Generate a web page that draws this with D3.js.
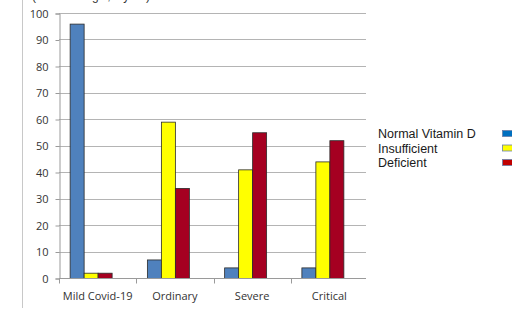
<!DOCTYPE html>
<html>
<head>
<meta charset="utf-8">
<script src="https://cdn.jsdelivr.net/npm/d3@7"></script>
<style>
  body { margin: 0; background: #fff; }
  svg { display: block; }
</style>
</head>
<body>
<div id="chart"></div>
<script>
var width = 512, height = 310;

// data
const categories = ["Mild Covid-19", "Ordinary", "Severe", "Critical"];
const seriesNames = ["Normal Vitamin D", "Insufficient", "Deficient"];
const normalVals = [96, 7, 4, 4];
const insufficientVals = [2, 59, 41, 44];
const deficientVals = [2, 34, 55, 52];
const yTicks = [0, 10, 20, 30, 40, 50, 60, 70, 80, 90, 100];

const seriesVals = [normalVals, insufficientVals, deficientVals];
const barColors = ["#4f81bd", "#ffff00", "#a50021"];
const legendColors = ["#0070c0", "#ffff00", "#c00000"];

const svg = d3.select("#chart").append("svg")
    .attr("width", width)
    .attr("height", height);

const plotLeft = 59, plotRight = 368, plotTop = 13, plotBottom = 278;

const x = d3.scaleBand()
    .domain(categories)
    .range([plotLeft, plotRight]);

// an empty 4th slot keeps the groups left of centre, like the original
const xs = d3.scaleBand()
    .domain(seriesNames.concat(["_"]))
    .range([0, x.bandwidth()])
    .paddingOuter(0.76);

const y = d3.scaleLinear()
    .domain([0, 100])
    .range([plotBottom, plotTop]);

// outer frame line on the left
svg.append("line")
    .attr("x1", 22.5).attr("x2", 22.5)
    .attr("y1", 0).attr("y2", 308)
    .attr("stroke", "#c8c8c8");

// cut-off title at the very top (only its lowest pixels are in frame)
svg.append("text")
    .attr("x", 32).attr("y", -0.5)
    .attr("textLength", 118)
    .attr("font-family", "Liberation Sans, Arial, sans-serif")
    .attr("font-size", 12)
    .attr("fill", "#333")
    .text("(Percentage, by %)");

// grid
svg.append("g")
  .selectAll("line")
  .data(yTicks.filter(d => d > 0))
  .join("line")
    .attr("x1", plotLeft).attr("x2", 366)
    .attr("y1", d => Math.round(y(d)) + 0.5)
    .attr("y2", d => Math.round(y(d)) + 0.5)
    .attr("stroke", "#b4b4b4");

// y axis
const yAxis = svg.append("g")
    .attr("transform", "translate(" + (plotLeft + 0.5) + ",0.5)")
    .call(d3.axisLeft(y).tickValues(yTicks).tickSize(4).tickPadding(7));
yAxis.select(".domain").attr("stroke", "#9a9a9a");
yAxis.selectAll(".tick line").attr("stroke", "#9a9a9a");
yAxis.selectAll("text")
    .attr("font-family", "Open Sans, Liberation Sans, sans-serif")
    .attr("font-size", 11)
    .attr("fill", "#333");

// bars
const groups = svg.append("g")
  .selectAll("g")
  .data(seriesVals)
  .join("g")
    .attr("fill", (d, i) => barColors[i]);

groups.selectAll("rect")
  .data((vals, i) => vals.map((v, j) => ({cat: categories[j], s: seriesNames[i], v: v})))
  .join("rect")
    .attr("x", d => x(d.cat) + xs(d.s) + 0.5)
    .attr("y", d => y(d.v) + 0.5)
    .attr("width", xs.bandwidth())
    .attr("height", d => y(0) - y(d.v))
    .attr("stroke", "#2b2b2b")
    .attr("stroke-width", 0.8);

// x axis
const xAxisLine = svg.append("g").attr("transform", "translate(0," + (plotBottom + 0.5) + ")");
xAxisLine.append("line")
    .attr("x1", plotLeft).attr("x2", 366)
    .attr("stroke", "#9a9a9a");
xAxisLine.selectAll(".sep")
  .data(categories)
  .join("line")
    .attr("class", "sep")
    .attr("x1", d => Math.round(x(d)) + 0.5)
    .attr("x2", d => Math.round(x(d)) + 0.5)
    .attr("y1", 0).attr("y2", 5)
    .attr("stroke", "#9a9a9a");
xAxisLine.selectAll("text")
  .data(categories)
  .join("text")
    .attr("x", d => x(d) + x.bandwidth() / 2)
    .attr("y", 21)
    .attr("text-anchor", "middle")
    .attr("font-family", "Open Sans, Liberation Sans, sans-serif")
    .attr("font-size", 11)
    .attr("fill", "#333")
    .text(d => d);

// legend
const legend = svg.append("g");
legend.selectAll("text")
  .data(seriesNames)
  .join("text")
    .attr("x", 378)
    .attr("y", (d, i) => 138 + i * 14.5)
    .attr("font-family", "Liberation Sans, Arial, sans-serif")
    .attr("font-size", 12.5)
    .attr("fill", "#1a1a1a")
    .text(d => d);
legend.selectAll("rect")
  .data(seriesNames)
  .join("rect")
    .attr("x", 502.5)
    .attr("y", (d, i) => 130.5 + i * 14.5)
    .attr("width", 12)
    .attr("height", 6)
    .attr("fill", (d, i) => legendColors[i])
    .attr("stroke", "#6a7fa8")
    .attr("stroke-width", 0.8);
</script>
</body>
</html>
